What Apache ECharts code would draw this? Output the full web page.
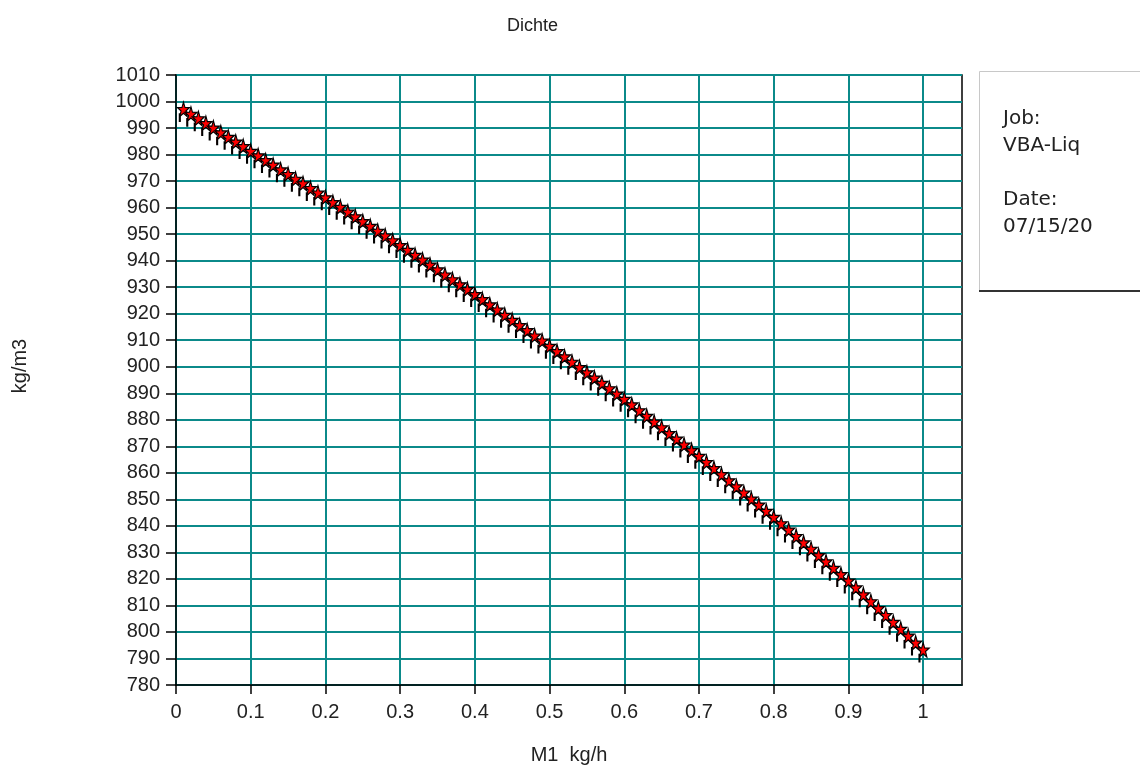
<!DOCTYPE html>
<html>
<head>
<meta charset="utf-8">
<script src="https://cdn.jsdelivr.net/npm/echarts@6/dist/echarts.min.js"></script>
<style>
html,body{margin:0;padding:0;background:#fff;}
#chart{width:1140px;height:780px;}
</style>
</head>
<body>
<div id="chart"></div>
<script>
// ---- data ----
const titleText = 'Dichte';
const xName = 'M1  kg/h';
const yName = 'kg/m3';
const xTicks = [0, 0.1, 0.2, 0.3, 0.4, 0.5, 0.6, 0.7, 0.8, 0.9, 1];
const yMin = 780, yMax = 1010, yStep = 10;
const infoLines = ['Job:', 'VBA-Liq', '', 'Date:', '07/15/20'];

const m1 = [
  0.01,0.02,0.03,0.04,0.05,0.06,0.07,0.08,0.09,0.10,
  0.11,0.12,0.13,0.14,0.15,0.16,0.17,0.18,0.19,0.20,
  0.21,0.22,0.23,0.24,0.25,0.26,0.27,0.28,0.29,0.30,
  0.31,0.32,0.33,0.34,0.35,0.36,0.37,0.38,0.39,0.40,
  0.41,0.42,0.43,0.44,0.45,0.46,0.47,0.48,0.49,0.50,
  0.51,0.52,0.53,0.54,0.55,0.56,0.57,0.58,0.59,0.60,
  0.61,0.62,0.63,0.64,0.65,0.66,0.67,0.68,0.69,0.70,
  0.71,0.72,0.73,0.74,0.75,0.76,0.77,0.78,0.79,0.80,
  0.81,0.82,0.83,0.84,0.85,0.86,0.87,0.88,0.89,0.90,
  0.91,0.92,0.93,0.94,0.95,0.96,0.97,0.98,0.99,1.00
];
const dichte = [
  996.8,995.0,993.3,991.5,989.8,988.0,986.3,984.5,982.8,981.0,
  979.3,977.5,975.8,974.0,972.3,970.5,968.8,967.0,965.3,963.5,
  961.7,959.9,958.1,956.3,954.5,952.7,950.9,949.1,947.3,945.5,
  943.7,941.8,940.0,938.1,936.3,934.4,932.6,930.7,928.9,927.0,
  925.1,923.1,921.2,919.2,917.3,915.3,913.4,911.4,909.5,907.5,
  905.5,903.5,901.5,899.5,897.5,895.5,893.5,891.5,889.5,887.5,
  885.4,883.2,881.1,878.9,876.8,874.6,872.5,870.3,868.2,866.0,
  863.7,861.4,859.1,856.8,854.5,852.2,849.9,847.6,845.3,843.0,
  840.6,838.2,835.8,833.4,831.0,828.6,826.2,823.8,821.4,819.0,
  816.4,813.8,811.2,808.6,806.0,803.4,800.8,798.2,795.6,793.0
];

// ---- chart ----
const FONT = '"Liberation Sans", Arial, sans-serif';
const BOXFONT = '"DejaVu Sans", sans-serif';
const starPath = 'path://M10 0 L12.35 6.76 L19.51 6.91 L13.8 11.24 L15.88 18.09 L10 14 L4.12 18.09 L6.2 11.24 L0.49 6.91 L7.65 6.76 Z M3.4 15 L5 15 L5 24 L3.4 24 Z';

const chart = echarts.init(document.getElementById('chart'), null, {renderer: 'canvas'});
const option = {
  animation: false,
  backgroundColor: '#fff',
  textStyle: {fontFamily: FONT},
  title: {
    text: titleText,
    left: 502, top: 12,
    textStyle: {fontFamily: FONT, fontSize: 18, fontWeight: 'normal', color: '#222'}
  },
  grid: {
    left: 176, right: 178, top: 75, bottom: 95,
    containLabel: false, outerBoundsMode: 'none',
    show: true, borderColor: '#000', borderWidth: 1.5, backgroundColor: 'transparent'
  },
  xAxis: {
    type: 'value',
    min: 0, max: 1.052, interval: 0.1,
    name: xName, nameLocation: 'middle', nameGap: 60,
    nameTextStyle: {fontFamily: FONT, fontSize: 20, color: '#222'},
    axisLine: {show: true, lineStyle: {color: '#000', width: 1.5}},
    axisTick: {show: true, length: 9, customValues: xTicks, lineStyle: {color: '#000', width: 1.5}},
    axisLabel: {customValues: xTicks, fontFamily: FONT, fontSize: 20, color: '#222', margin: 17,
      formatter: v => String(v)},
    splitLine: {show: true, lineStyle: {color: '#0b8a8a', width: 2}}
  },
  yAxis: {
    type: 'value',
    min: yMin, max: yMax, interval: yStep,
    axisLine: {show: true, lineStyle: {color: '#000', width: 1.5}},
    axisTick: {show: true, length: 10, lineStyle: {color: '#000', width: 1.5}},
    axisLabel: {fontFamily: FONT, fontSize: 20, color: '#222', margin: 16,
      formatter: v => String(v)},
    splitLine: {show: true, lineStyle: {color: '#0b8a8a', width: 2}}
  },
  series: [{
    type: 'line',
    data: m1.map((x, i) => [x, dichte[i]]),
    symbol: starPath,
    symbolSize: [15.2, 19.2],
    symbolOffset: [0, 1.6],
    symbolKeepAspect: true,
    showAllSymbol: true,
    lineStyle: {color: '#000', width: 1.5},
    itemStyle: {color: '#ff0000', borderColor: '#000', borderWidth: 1.2},
    z: 5
  }],
  graphic: [
    {
      type: 'text', x: 20, y: 366, rotation: Math.PI / 2,
      style: {text: yName, font: '20px ' + FONT, fill: '#222', align: 'center', verticalAlign: 'middle'}
    },
    {
      type: 'rect', left: 979, top: 71,
      shape: {width: 200, height: 220},
      style: {fill: '#fff', stroke: '#c8c8c8', lineWidth: 1}
    },
    {
      type: 'rect', left: 979, top: 290,
      shape: {width: 200, height: 2},
      style: {fill: '#333'}
    },
    {
      type: 'text', left: 1003, top: 105,
      style: {
        text: infoLines.join('\n'),
        font: '20px ' + BOXFONT,
        lineHeight: 27,
        fill: '#222'
      }
    }
  ]
};
chart.setOption(option);
</script>
</body>
</html>
